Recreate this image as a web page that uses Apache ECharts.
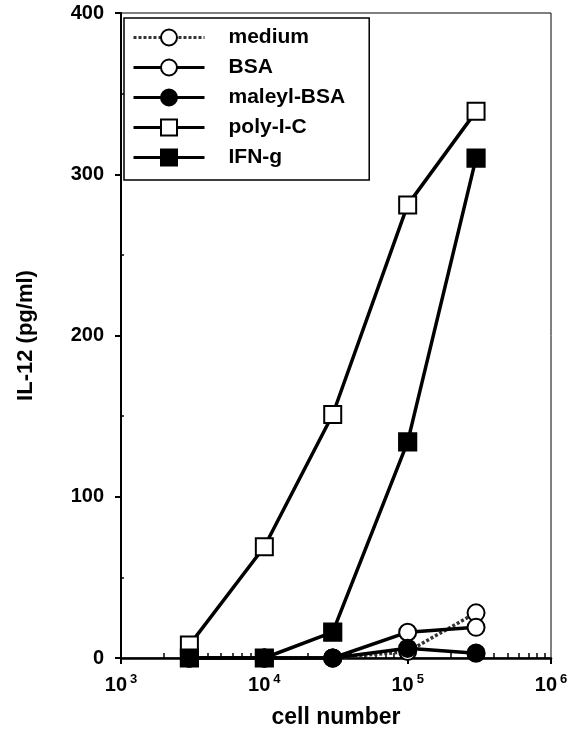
<!DOCTYPE html>
<html>
<head>
<meta charset="utf-8">
<script src="https://cdn.jsdelivr.net/npm/echarts@6/dist/echarts.min.js"></script>
<style>
  html, body { margin: 0; padding: 0; background: #fff; }
  #chart { width: 579px; height: 730px; }
</style>
</head>
<body>
<div id="chart"></div>
<script>
// Cell numbers plated per well
const cellNumbers = [3000, 10000, 30000, 100000, 300000];

// IL-12 (pg/ml) for each stimulus
const medium    = [0, 0, 0, 4, 28];
const bsa       = [0, 0, 0, 16, 19];
const maleylBsa = [0, 0, 0, 6, 3];
const polyIC    = [8, 69, 151, 281, 339];
const ifnG      = [0, 0, 16, 134, 310];

const seriesNames = ['medium', 'BSA', 'maleyl-BSA', 'poly-I-C', 'IFN-g'];

// Axis ranges and ticks
const xMin = 1000, xMax = 1000000;
const yMin = 0, yMax = 400, yStep = 100;
const yMinorTicks = [50, 150, 250, 350];
const xMinorTicks = [];
for (let dec = 1000; dec < xMax; dec *= 10) {
  for (let k = 2; k <= 9; k++) xMinorTicks.push(dec * k);
}

const FONT = 'Liberation Sans, Arial, Helvetica, sans-serif';

function pairs(ys) {
  return cellNumbers.map((x, i) => [x, ys[i]]);
}

function lineSeries(name, ys, symbol, lineType, lineColor) {
  return {
    name: name,
    type: 'line',
    data: pairs(ys),
    symbol: symbol,
    symbolSize: 17,
    showSymbol: true,
    lineStyle: { color: lineColor || '#000', width: 3.5, type: lineType || 'solid' },
    itemStyle: { color: '#000', borderColor: '#000', borderWidth: 2.2 },
    emphasis: { disabled: true },
    animation: false
  };
}

const chart = echarts.init(document.getElementById('chart'), null, { renderer: 'canvas' });

chart.setOption({
  backgroundColor: '#fff',
  animation: false,
  grid: {
    left: 121, right: 28, top: 13, bottom: 72,
    containLabel: false,
    outerBoundsMode: 'none',
    show: true,
    borderColor: '#000',
    borderWidth: 1,
    backgroundColor: 'transparent'
  },
  legend: {
    orient: 'vertical',
    left: 124,
    top: 18,
    data: seriesNames,
    itemWidth: 71,
    itemHeight: 20,
    itemGap: 9,
    padding: [9, 24, 12, 8],
    borderColor: '#000',
    borderWidth: 1.5,
    backgroundColor: '#fff',
    selectedMode: false,
    lineStyle: { width: 3 },
    textStyle: {
      fontFamily: FONT,
      fontSize: 21,
      fontWeight: 'bold',
      color: '#000',
      lineHeight: 20,
      padding: [0, 0, 0, 19]
    }
  },
  xAxis: [
    {
      type: 'log',
      logBase: 10,
      min: xMin,
      max: xMax,
      position: 'bottom',
      name: 'cell number',
      nameLocation: 'middle',
      nameGap: 48,
      nameTextStyle: { fontFamily: FONT, fontSize: 23, fontWeight: 'bold', color: '#000' },
      axisLine: { show: true, lineStyle: { color: '#000', width: 2.5 } },
      axisTick: { show: true, inside: false, length: 6, lineStyle: { color: '#000', width: 2 } },
      splitLine: { show: false },
      axisLabel: {
        margin: 15,
        formatter: function (v) {
          return '{b|10}{s|' + Math.round(Math.log10(v)) + '}';
        },
        rich: {
          b: { fontFamily: FONT, fontSize: 20, fontWeight: 'bold', color: '#000', lineHeight: 22, verticalAlign: 'bottom' },
          s: { fontFamily: FONT, fontSize: 13, fontWeight: 'bold', color: '#000', lineHeight: 22, verticalAlign: 'top', padding: [0, 0, 0, 3] }
        }
      }
    },
    {
      type: 'log',
      logBase: 10,
      min: xMin,
      max: xMax,
      position: 'bottom',
      axisLine: { show: false },
      axisLabel: { show: false },
      splitLine: { show: false },
      axisTick: { show: true, inside: true, length: 5, customValues: xMinorTicks, lineStyle: { color: '#000', width: 1.5 } }
    }
  ],
  yAxis: [
    {
      type: 'value',
      min: yMin,
      max: yMax,
      interval: yStep,
      position: 'left',
      name: 'IL-12 (pg/ml)',
      nameLocation: 'middle',
      nameGap: 84,
      nameTextStyle: { fontFamily: FONT, fontSize: 22, fontWeight: 'bold', color: '#000' },
      axisLine: { show: true, lineStyle: { color: '#000', width: 2 } },
      axisTick: { show: true, inside: false, length: 6, lineStyle: { color: '#000', width: 2 } },
      splitLine: { show: false },
      axisLabel: { margin: 17, fontFamily: FONT, fontSize: 20, fontWeight: 'bold', color: '#000' }
    },
    {
      type: 'value',
      min: yMin,
      max: yMax,
      position: 'left',
      axisLine: { show: false },
      axisLabel: { show: false },
      splitLine: { show: false },
      axisTick: { show: true, inside: true, length: 3, customValues: yMinorTicks, lineStyle: { color: '#000', width: 1.5 } }
    }
  ],
  series: [
    lineSeries('medium', medium, 'emptyCircle', [3, 2], '#333'),
    lineSeries('BSA', bsa, 'emptyCircle'),
    lineSeries('maleyl-BSA', maleylBsa, 'circle'),
    lineSeries('poly-I-C', polyIC, 'emptyRect'),
    lineSeries('IFN-g', ifnG, 'rect')
  ]
});
</script>
</body>
</html>
